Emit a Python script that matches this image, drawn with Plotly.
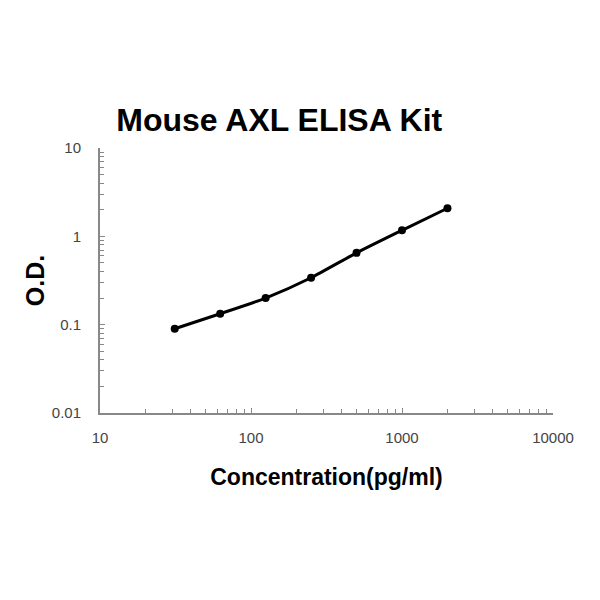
import plotly.graph_objects as go

conc = [31.25, 62.5, 125, 250, 500, 1000, 2000]
od = [0.090, 0.133, 0.200, 0.340, 0.650, 1.17, 2.08]

x_ticks = [10, 100, 1000, 10000]
x_labels = ["10", "100", "1000", "10000"]
y_ticks = [0.01, 0.1, 1, 10]
y_labels = ["0.01", "0.1", "1", "10"]

def minor_vals(lo_exp, hi_exp):
    return [m * 10 ** e for e in range(lo_exp, hi_exp) for m in range(2, 10)]

FONT = "Liberation Sans, Arial, sans-serif"
axis_common = dict(
    showgrid=False, zeroline=False, showline=True, linecolor="#888", linewidth=2,
    ticks="inside", ticklen=5, tickcolor="#888", tickwidth=1, automargin=False,
    tickfont=dict(family=FONT, size=15, color="#444"),
)

fig = go.Figure()
fig.add_trace(go.Scatter(
    x=conc, y=od, mode="lines+markers",
    line=dict(color="black", width=3, shape="spline", smoothing=0.6),
    marker=dict(color="black", size=8),
    showlegend=False,
))

fig.update_xaxes(type="log", range=[1, 4], tickvals=x_ticks, ticktext=x_labels,
                 ticklabelstandoff=10,
                 minor=dict(ticks="inside", ticklen=4, tickcolor="#888", tickwidth=1,
                            tickmode="array", tickvals=minor_vals(1, 4), showgrid=False),
                 title=dict(text="<b>Concentration(pg/ml)</b>",
                            font=dict(family=FONT, size=23, color="black"), standoff=24),
                 **axis_common)
fig.update_yaxes(type="log", range=[-2, 1], tickvals=y_ticks, ticktext=y_labels,
                 ticklabelstandoff=14,
                 minor=dict(ticks="inside", ticklen=4, tickcolor="#888", tickwidth=1,
                            tickmode="array", tickvals=minor_vals(-2, 1), showgrid=False),
                 title=dict(text="<b>O.D.</b>",
                            font=dict(family=FONT, size=25, color="black"), standoff=0),
                 **axis_common)

fig.update_layout(
    width=600, height=600,
    margin=dict(l=92, r=55, t=140, b=195),
    plot_bgcolor="white", paper_bgcolor="white",
    title=dict(text="<b>Mouse AXL ELISA Kit</b>", x=0.452, xanchor="center", y=0.813, yanchor="middle",
               font=dict(family=FONT, size=32, color="black")),
)

fig.write_html("out.html")
